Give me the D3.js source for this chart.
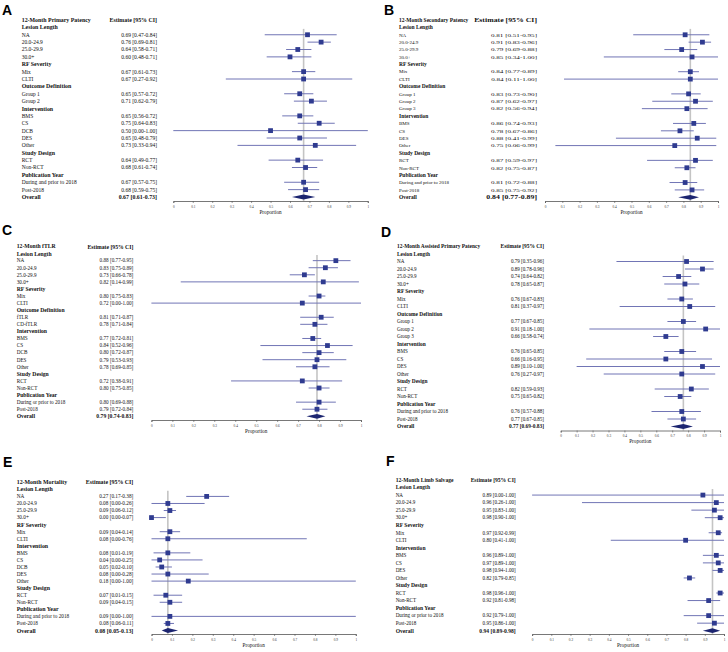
<!DOCTYPE html>
<html lang="en">
<head>
<meta charset="utf-8">
<title>12-Month Outcomes - Forest Plots</title>
<script src="https://cdn.jsdelivr.net/npm/d3@7"></script>
<style>
body { margin: 0; background: #fff; }
text { fill: #111; }
</style>
</head>
<body>
<script>

var headings = ["Lesion Length", "RF Severity", "Outcome Definition", "Intervention", "Study Design", "Publication Year", "Overall"];
var axisTicks = [0, 0.1, 0.2, 0.3, 0.4, 0.5, 0.6, 0.7, 0.8, 0.9, 1];

// A - primary patency
var aTitle = "12-Month Primary Patency";
var aRows = ["Lesion Length","NA","20.0-24.9","25.0-29.9","30.0+","RF Severity","Mix","CLTI","Outcome Definition","Group 1","Group 2","Intervention","BMS","CS","DCB","DES","Other","Study Design","RCT","Non-RCT","Publication Year","During and prior to 2018","Post-2018","Overall"];
var aEst = [null,0.69,0.76,0.64,0.60,null,0.67,0.67,null,0.65,0.71,null,0.65,0.75,0.50,0.65,0.73,null,0.64,0.68,null,0.67,0.68,0.67];
var aLo  = [null,0.47,0.69,0.58,0.48,null,0.61,0.27,null,0.57,0.62,null,0.56,0.64,0.00,0.48,0.33,null,0.49,0.61,null,0.57,0.59,0.61];
var aHi  = [null,0.84,0.81,0.71,0.71,null,0.73,0.92,null,0.72,0.79,null,0.72,0.83,1.00,0.79,0.94,null,0.77,0.74,null,0.75,0.75,0.73];

// B - secondary patency
var bTitle = "12-Month Secondary Patency";
var bRows = ["Lesion Length","NA","20.0-24.9","25.0-29.9","30.0+","RF Severity","Mix","CLTI","Outcome Definition","Group 1","Group 2","Group 3","Intervention","BMS","CS","DES","Other","Study Design","RCT","Non-RCT","Publication Year","During and prior to 2018","Post-2018","Overall"];
var bEst = [null,0.81,0.91,0.79,0.85,null,0.84,0.84,null,0.83,0.87,0.82,null,0.86,0.78,0.88,0.75,null,0.87,0.82,null,0.81,0.85,0.84];
var bLo  = [null,0.51,0.83,0.69,0.34,null,0.77,0.11,null,0.73,0.62,0.56,null,0.74,0.67,0.41,0.06,null,0.59,0.75,null,0.72,0.75,0.77];
var bHi  = [null,0.95,0.96,0.88,1.00,null,0.89,1.00,null,0.90,0.97,0.94,null,0.93,0.86,0.99,0.99,null,0.97,0.87,null,0.88,0.92,0.89];

// C - fTLR
var cTitle = "12-Month fTLR";
var cRows = ["Lesion Length","NA","20.0-24.9","25.0-29.9","30.0+","RF Severity","Mix","CLTI","Outcome Definition","fTLR","CD-fTLR","Intervention","BMS","CS","DCB","DES","Other","Study Design","RCT","Non-RCT","Publication Year","During or prior to 2018","Post-2018","Overall"];
var cEst = [null,0.88,0.83,0.73,0.82,null,0.80,0.72,null,0.81,0.78,null,0.77,0.84,0.80,0.79,0.78,null,0.72,0.80,null,0.80,0.79,0.79];
var cLo  = [null,0.77,0.75,0.66,0.14,null,0.75,0.00,null,0.71,0.71,null,0.72,0.52,0.72,0.53,0.69,null,0.38,0.75,null,0.69,0.72,0.74];
var cHi  = [null,0.95,0.89,0.78,0.99,null,0.83,1.00,null,0.87,0.84,null,0.81,0.96,0.87,0.93,0.85,null,0.91,0.85,null,0.88,0.84,0.83];

// D - assisted primary patency
var dTitle = "12-Month Assisted Primary Patency";
var dRows = ["Lesion Length","NA","20.0-24.9","25.0-29.9","30.0+","RF Severity","Mix","CLTI","Outcome Definition","Group 1","Group 2","Group 3","Intervention","BMS","CS","DES","Other","Study Design","RCT","Non-RCT","Publication Year","During and prior to 2018","Post-2018","Overall"];
var dEst = [null,0.79,0.89,0.74,0.78,null,0.76,0.81,null,0.77,0.91,0.66,null,0.76,0.66,0.89,0.76,null,0.82,0.75,null,0.76,0.77,0.77];
var dLo  = [null,0.35,0.78,0.64,0.65,null,0.67,0.37,null,0.67,0.18,0.58,null,0.65,0.16,0.10,0.27,null,0.59,0.65,null,0.57,0.67,0.69];
var dHi  = [null,0.96,0.96,0.82,0.87,null,0.83,0.97,null,0.85,1.00,0.74,null,0.85,0.95,1.00,0.97,null,0.93,0.82,null,0.88,0.85,0.83];

// E - mortality
var eTitle = "12-Month Mortality";
var eRows = ["Lesion Length","NA","20.0-24.9","25.0-29.9","30.0+","RF Severity","Mix","CLTI","Intervention","BMS","CS","DCB","DES","Other","Study Design","RCT","Non-RCT","Publication Year","During and prior to 2018","Post-2018","Overall"];
var eEst = [null,0.27,0.08,0.09,0.00,null,0.09,0.08,null,0.08,0.04,0.05,0.08,0.18,null,0.07,0.09,null,0.09,0.08,0.08];
var eLo  = [null,0.17,0.00,0.06,0.00,null,0.04,0.00,null,0.01,0.00,0.02,0.00,0.00,null,0.01,0.04,null,0.00,0.06,0.05];
var eHi  = [null,0.38,0.26,0.12,0.07,null,0.14,0.76,null,0.19,0.25,0.10,0.28,1.00,null,0.15,0.15,null,1.00,0.11,0.13];

// F - limb salvage
var fTitle = "12-Month Limb Salvage";
var fRows = ["Lesion Length","NA","20.0-24.9","25.0-29.9","30.0+","RF Severity","Mix","CLTI","Intervention","BMS","CS","DES","Other","Study Design","RCT","Non-RCT","Publication Year","During or prior to 2018","Post-2018","Overall"];
var fEst = [null,0.89,0.96,0.95,0.98,null,0.97,0.80,null,0.96,0.97,0.98,0.82,null,0.98,0.92,null,0.92,0.95,0.94];
var fLo  = [null,0.00,0.26,0.83,0.90,null,0.92,0.41,null,0.89,0.89,0.94,0.79,null,0.96,0.81,null,0.79,0.86,0.89];
var fHi  = [null,1.00,1.00,1.00,1.00,null,0.99,1.00,null,1.00,1.00,1.00,0.85,null,1.00,0.98,null,1.00,1.00,0.98];

// layout of each panel (positions only)
var panels = [
  {letter:"A", title:aTitle, rows:aRows, est:aEst, lo:aLo, hi:aHi, lx:2,   ly:15,  tx:21.7,  ex:157,   y0:20,    y1:197,   x0:173.3, x1:367.8, ay:201,   fb:5.9, fr:5.5, sx:1},
  {letter:"B", title:bTitle, rows:bRows, est:bEst, lo:bLo, hi:bHi, lx:384, ly:15,  tx:399,   ex:537,   y0:20,    y1:197.3, x0:545,   x1:718,   ay:201,   fb:5.5, fr:5.0, sx:1.42},
  {letter:"C", title:cTitle, rows:cRows, est:cEst, lo:cLo, hi:cHi, lx:2,   ly:235, tx:16.7,  ex:133.3, y0:246.5, y1:416.3, x0:151.4, x1:361,   ay:420,   fb:5.7, fr:5.2, sx:1},
  {letter:"D", title:dTitle, rows:dRows, est:dEst, lo:dLo, hi:dHi, lx:381, ly:237, tx:397,   ex:544,   y0:246.5, y1:426.5, x0:560.7, x1:720,   ay:430.5, fb:5.4, fr:5.1, sx:1},
  {letter:"E", title:eTitle, rows:eRows, est:eEst, lo:eLo, hi:eHi, lx:3,   ly:467, tx:16.7,  ex:133.3, y0:482.3, y1:630.5, x0:151.5, x1:355.8, ay:634,   fb:5.9, fr:5.25, sx:1},
  {letter:"F", title:fTitle, rows:fRows, est:fEst, lo:fLo, hi:fHi, lx:386, ly:466, tx:395.7, ex:515.7, y0:480,   y1:630.7, x0:532.1, x1:724,   ay:634,   fb:5.6, fr:5.1, sx:1}
];

var serif = "'Liberation Serif', 'Times New Roman', serif";
var fmt = d3.format(".2f");
function ciText(e, l, h) { return fmt(e) + " [" + fmt(l) + "-" + fmt(h) + "]"; }

var svg = d3.select("body").append("svg")
  .attr("width", 728)
  .attr("height", 652);

panels.forEach(function(p) {
  var g = svg.append("g");
  var n = p.rows.length;
  var y = d3.scaleLinear().domain([0, n]).range([p.y0, p.y1]);
  var x = d3.scaleLinear().domain([0, 1]).range([p.x0, p.x1]);
  var last = n - 1;

  // panel letter
  g.append("text")
    .attr("x", p.lx).attr("y", p.ly)
    .style("font-family", "'Liberation Sans', Arial, sans-serif")
    .style("font-weight", "bold")
    .style("font-size", "14px")
    .style("fill", "#000")
    .text(p.letter);

  // header row
  g.append("text")
    .attr("x", p.tx).attr("y", y(0)).attr("dy", "0.35em")
    .style("font-family", serif).style("font-weight", "bold").style("font-size", p.fb + "px")
    .text(p.title);
  g.append("text")
    .attr("transform", "translate(" + p.ex + "," + y(0) + ") scale(" + p.sx + ",1)")
    .attr("dy", "0.35em").attr("text-anchor", "end")
    .style("font-family", serif).style("font-weight", "bold").style("font-size", p.fb + "px")
    .text("Estimate [95% CI]");

  // reference line at overall estimate
  g.append("line")
    .attr("x1", x(p.est[last])).attr("x2", x(p.est[last]))
    .attr("y1", y(1) + 1.5).attr("y2", p.ay)
    .attr("stroke", "#c4c4c4").attr("stroke-width", 1.6);

  var idx = d3.range(n);

  // row labels
  g.selectAll("text.lab").data(idx).enter().append("text")
    .attr("class", "lab")
    .attr("x", p.tx).attr("y", function(i) { return y(i + 1); }).attr("dy", "0.35em")
    .style("font-family", serif)
    .style("font-weight", function(i) { return headings.indexOf(p.rows[i]) >= 0 ? "bold" : "normal"; })
    .style("font-size", function(i) { return (headings.indexOf(p.rows[i]) >= 0 ? p.fb : p.fr) + "px"; })
    .text(function(i) { return p.rows[i]; });

  var vals = idx.filter(function(i) { return p.est[i] !== null; });

  // estimate text
  g.selectAll("text.val").data(vals).enter().append("text")
    .attr("class", "val")
    .attr("transform", function(i) { return "translate(" + p.ex + "," + y(i + 1) + ") scale(" + p.sx + ",1)"; })
    .attr("dy", "0.35em").attr("text-anchor", "end")
    .style("font-family", serif)
    .style("font-weight", function(i) { return i === last ? "bold" : "normal"; })
    .style("font-size", function(i) { return (i === last ? p.fb : p.fr) + "px"; })
    .text(function(i) { return ciText(p.est[i], p.lo[i], p.hi[i]); });

  var subs = vals.filter(function(i) { return i !== last; });

  // confidence intervals
  g.selectAll("line.ci").data(subs).enter().append("line")
    .attr("class", "ci")
    .attr("x1", function(i) { return x(p.lo[i]); })
    .attr("x2", function(i) { return x(p.hi[i]); })
    .attr("y1", function(i) { return y(i + 1); })
    .attr("y2", function(i) { return y(i + 1); })
    .attr("stroke", "#7175b5").attr("stroke-width", 1);

  // point estimates
  var sq = 4.8;
  g.selectAll("rect.pt").data(subs).enter().append("rect")
    .attr("class", "pt")
    .attr("x", function(i) { return x(p.est[i]) - sq / 2; })
    .attr("y", function(i) { return y(i + 1) - sq / 2; })
    .attr("width", sq).attr("height", sq)
    .attr("fill", "#2f3b90");

  // overall diamond
  var yo = y(last + 1), h = 2.4;
  g.append("path")
    .attr("d", "M" + x(p.lo[last]) + "," + yo +
               "L" + x(p.est[last]) + "," + (yo - h) +
               "L" + x(p.hi[last]) + "," + yo +
               "L" + x(p.est[last]) + "," + (yo + h) + "Z")
    .attr("fill", "#1c2570");

  // axis
  var ax = g.append("g")
    .attr("transform", "translate(0," + p.ay + ")")
    .call(d3.axisBottom(x).tickValues(axisTicks).tickSize(2).tickPadding(2.2)
      .tickFormat(function(d) { return d === 0 ? "0" : d === 1 ? "1" : d3.format(".1f")(d); }));
  ax.select(".domain").attr("stroke", "#555").attr("stroke-width", 0.8);
  ax.selectAll(".tick line").attr("stroke", "#555").attr("stroke-width", 0.6);
  ax.selectAll(".tick text")
    .style("font-family", serif).style("font-size", "3.4px").style("fill", "#333");

  g.append("text")
    .attr("x", (p.x0 + p.x1) / 2).attr("y", p.ay + 12.8)
    .attr("text-anchor", "middle")
    .style("font-family", serif).style("font-size", "5.2px")
    .text("Proportion");
});

</script>
</body>
</html>
